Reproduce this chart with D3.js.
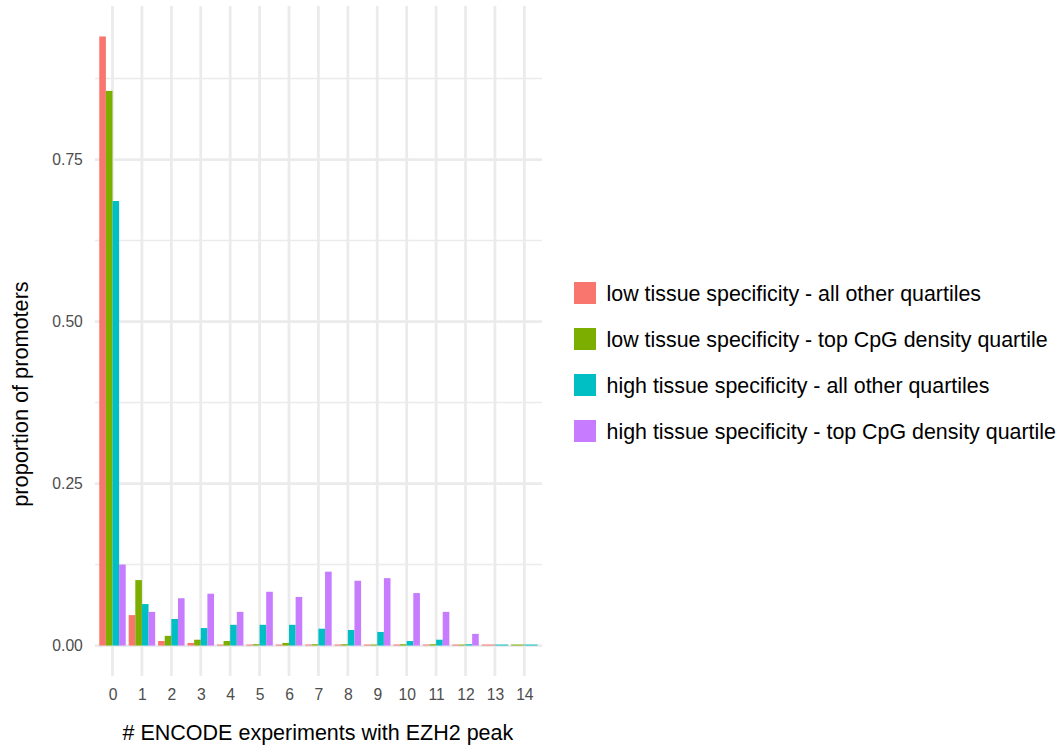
<!DOCTYPE html>
<html>
<head>
<meta charset="utf-8">
<script src="https://cdn.jsdelivr.net/npm/d3@7"></script>
<style>
  body { margin: 0; background: #fff; }
  text { font-family: "Liberation Sans", Arial, sans-serif; }
</style>
</head>
<body>
<div id="chart"></div>
<script>
// data
const categories = ['0','1','2','3','4','5','6','7','8','9','10','11','12','13','14'];
const seriesNames = [
  'low tissue specificity - all other quartiles',
  'low tissue specificity - top CpG density quartile',
  'high tissue specificity - all other quartiles',
  'high tissue specificity - top CpG density quartile'
];
const lowOther  = [0.940, 0.047, 0.007, 0.004, 0.0015, 0.0015, 0.0015, 0.0015, 0.0015, 0.0015, 0.0015, 0.0015, 0.0015, 0.0015, null];
const lowTop    = [0.856, 0.101, 0.015, 0.009, 0.007, 0.002, 0.004, 0.002, 0.002, 0.0015, 0.002, 0.002, 0.0015, null, 0.0015];
const highOther = [0.686, 0.064, 0.041, 0.027, 0.032, 0.032, 0.032, 0.026, 0.024, 0.021, 0.007, 0.009, 0.002, 0.0015, 0.0015];
const highTop   = [0.125, 0.052, 0.073, 0.080, 0.052, 0.083, 0.075, 0.114, 0.100, 0.104, 0.081, 0.052, 0.018, null, null];
const yTicks = [0, 0.25, 0.5, 0.75];
const yMinor = [0.125, 0.375, 0.625, 0.875];

const colors = ['#F8766D', '#7CAE00', '#00BFC4', '#C77CFF'];
const allSeries = [lowOther, lowTop, highOther, highTop];

const width = 1058, height = 746;
const panel = {left: 94.85, right: 542, top: 6, bottom: 676};

const svg = d3.select('#chart')
  .append('svg')
  .attr('width', width)
  .attr('height', height);

// scales
const x = d3.scalePoint()
  .domain(categories)
  .range([panel.left, panel.right])
  .padding(0.6);

const yMax = d3.max(allSeries.flat());
const pad = yMax * 0.05;
const y = d3.scaleLinear()
  .domain([-pad, yMax + pad])
  .range([panel.bottom, panel.top]);

// grid
const grid = svg.append('g');
grid.selectAll('.minor')
  .data(yMinor)
  .enter().append('line')
  .attr('x1', panel.left).attr('x2', panel.right)
  .attr('y1', d => y(d)).attr('y2', d => y(d))
  .style('stroke', '#EBEBEB').style('stroke-width', 1.4);
grid.selectAll('.major')
  .data(yTicks)
  .enter().append('line')
  .attr('x1', panel.left).attr('x2', panel.right)
  .attr('y1', d => y(d)).attr('y2', d => y(d))
  .style('stroke', '#EBEBEB').style('stroke-width', 2.8);
grid.selectAll('.vert')
  .data(categories)
  .enter().append('line')
  .attr('x1', d => x(d)).attr('x2', d => x(d))
  .attr('y1', panel.top).attr('y2', panel.bottom)
  .style('stroke', '#EBEBEB').style('stroke-width', 2.8);

// bars, dodged; missing groups share the width
const groupWidth = x.step() * 0.9;
const bars = [];
categories.forEach((c, i) => {
  const present = allSeries
    .map((s, k) => ({k, v: s[i]}))
    .filter(d => d.v !== null);
  const w = groupWidth / present.length;
  present.forEach((d, j) => {
    bars.push({cat: c, k: d.k, v: d.v, x0: x(c) - groupWidth / 2 + j * w, w});
  });
});

svg.append('g')
  .selectAll('rect')
  .data(bars)
  .enter().append('rect')
  .attr('x', d => d.x0)
  .attr('width', d => d.w)
  .attr('y', d => y(d.v))
  .attr('height', d => y(0) - y(d.v))
  .style('fill', d => colors[d.k]);

// axes
const yAxis = svg.append('g')
  .attr('transform', `translate(${panel.left},0)`)
  .call(d3.axisLeft(y).tickValues(yTicks).tickFormat(d3.format('.2f')).tickSize(0).tickPadding(12));
yAxis.select('.domain').remove();
yAxis.selectAll('text').style('font-size', '15.7px').style('fill', '#4D4D4D')
  .style('font-family', '"Liberation Sans", Arial, sans-serif');

const xAxis = svg.append('g')
  .attr('transform', `translate(0,${panel.bottom})`)
  .call(d3.axisBottom(x).tickSize(0).tickPadding(13));
xAxis.select('.domain').remove();
xAxis.selectAll('text').style('font-size', '15.7px').style('fill', '#4D4D4D')
  .style('font-family', '"Liberation Sans", Arial, sans-serif');

// axis titles
svg.append('text')
  .attr('x', (panel.left + panel.right) / 2 - 0.5)
  .attr('y', 740)
  .attr('text-anchor', 'middle')
  .style('font-size', '21.5px')
  .text('# ENCODE experiments with EZH2 peak');

svg.append('text')
  .attr('transform', 'translate(28,394) rotate(-90)')
  .attr('text-anchor', 'middle')
  .style('font-size', '21.7px')
  .text('proportion of promoters');

// legend
const legend = svg.append('g')
  .selectAll('g')
  .data(seriesNames)
  .enter().append('g')
  .attr('transform', (_, i) => `translate(574,${282 + i * 46})`);

legend.append('rect')
  .attr('width', 22).attr('height', 22)
  .style('fill', (_, i) => colors[i]);

legend.append('text')
  .attr('x', 32.5)
  .attr('y', 18.5)
  .style('font-size', '21.4px')
  .text(d => d);
</script>
</body>
</html>
